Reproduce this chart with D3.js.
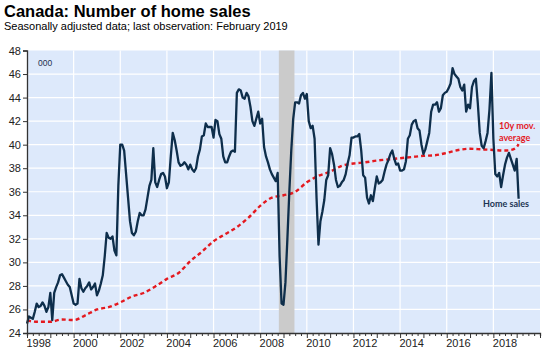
<!DOCTYPE html>
<html>
<head>
<meta charset="utf-8">
<script src="https://cdn.jsdelivr.net/npm/d3@7"></script>
<style>
  html, body { margin: 0; padding: 0; background: #ffffff; }
  svg { display: block; }
</style>
</head>
<body>
<svg id="chart" width="550" height="362"></svg>
<script>
// ---------------- DATA ----------------
const titleText = "Canada: Number of home sales";
const subtitleText = "Seasonally adjusted data; last observation: February 2019";
const unitLabel = "000";

// Monthly home sales (thousands, SA), starting January 1998, ending February 2019
const salesStart = 1998;
const salesValues = [
  24.8, 25.4, 25.3, 25.2, 25.8, 26.5, 26.2, 26.3, 26.6, 26.3, 25.8, 26.2, // 1998
  27.4, 25.1, 27.4, 27.9, 28.3, 28.9, 29.0, 28.7, 28.4, 28.1, 27.9, 27.2, // 1999
  26.5, 26.4, 26.5, 28.6, 27.8, 27.5, 27.8, 28.0, 28.3, 27.7, 27.9, 28.2, // 2000
  27.2, 27.6, 28.2, 28.9, 30.5, 32.5, 32.1, 32.0, 32.2, 31.0, 30.6, 36.5, // 2001
  40.0, 40.0, 39.5, 37.5, 35.5, 33.5, 32.5, 32.3, 32.6, 33.5, 34.2, 34.0, // 2002
  34.0, 34.5, 35.5, 36.5, 37.0, 39.7, 36.8, 36.4, 37.0, 37.5, 37.6, 37.3, // 2003
  36.3, 36.8, 39.0, 41.0, 40.4, 39.5, 38.5, 38.2, 38.3, 38.5, 38.3, 37.9, // 2004
  38.3, 37.9, 37.7, 38.0, 39.0, 39.6, 40.7, 40.8, 41.8, 41.5, 41.5, 41.5, // 2005
  40.6, 42.1, 42.0, 40.9, 40.5, 39.0, 38.5, 38.5, 39.0, 39.4, 39.5, 39.4, // 2006
  44.4, 44.7, 44.6, 44.0, 43.9, 44.4, 44.1, 43.2, 42.0, 41.6, 42.2, 42.8, // 2007
  41.8, 42.2, 39.8, 39.0, 38.5, 37.9, 37.5, 37.2, 36.9, 37.6, 30.5, 26.5, // 2008
  26.4, 28.3, 32.0, 36.0, 39.5, 42.2, 43.6, 43.6, 43.5, 44.2, 44.4, 43.9, // 2009
  44.3, 42.0, 41.4, 41.6, 40.5, 35.5, 31.5, 33.5, 34.3, 35.3, 37.0, 37.4, // 2010
  39.7, 39.2, 38.3, 37.0, 36.4, 36.5, 36.8, 37.0, 37.5, 38.4, 39.1, 40.6, // 2011
  40.6, 40.7, 40.7, 40.9, 39.5, 37.4, 37.2, 35.5, 35.0, 35.7, 35.2, 36.3, // 2012
  37.3, 36.7, 36.8, 37.0, 37.7, 38.3, 38.7, 39.2, 39.5, 38.8, 38.3, 38.4, // 2013
  37.8, 37.8, 37.9, 38.6, 40.5, 40.8, 41.7, 42.0, 42.1, 41.4, 41.2, 40.0, // 2014
  39.2, 39.6, 40.3, 41.0, 42.8, 43.4, 43.4, 43.6, 42.8, 43.1, 44.2, 44.4, // 2015
  44.5, 44.8, 45.2, 46.5, 46.0, 45.8, 45.6, 44.9, 44.6, 45.1, 42.8, 43.4, // 2016
  43.1, 44.9, 45.4, 45.6, 43.5, 41.0, 39.9, 39.7, 40.3, 41.0, 43.0, 46.1, // 2017
  40.5, 37.5, 37.3, 37.6, 36.4, 37.4, 38.3, 38.9, 39.3, 38.8, 38.3, 37.8, // 2018
  38.8, 35.4                                                              // 2019
];

// 10-year moving average, read at selected dates (decimal years)
const maYears = [1998.0, 1998.5, 1999.0, 1999.5, 2000.0, 2000.5, 2001.0, 2001.5, 2002.0, 2002.5,
                 2003.0, 2003.5, 2004.0, 2004.5, 2005.0, 2005.5, 2006.0, 2006.5, 2007.0, 2007.5,
                 2008.0, 2008.5, 2009.0, 2009.5, 2010.0, 2010.5, 2011.0, 2011.5, 2012.0, 2012.5,
                 2013.0, 2013.5, 2014.0, 2014.5, 2015.0, 2015.5, 2016.0, 2016.5, 2017.0, 2017.5,
                 2018.0, 2018.5, 2018.75, 2019.0, 2019.083];
const maValues = [25.05, 24.95, 24.95, 25.15, 25.1, 25.5, 26.0, 26.2, 26.6, 27.1,
                  27.4, 27.95, 28.6, 29.1, 30.1, 30.9, 31.8, 32.4, 33.0, 33.8,
                  34.8, 35.5, 35.7, 36.0, 36.8, 37.35, 37.7, 38.2, 38.4, 38.5,
                  38.65, 38.75, 38.85, 38.95, 39.05, 39.1, 39.3, 39.55, 39.65, 39.6,
                  39.55, 39.5, 39.55, 39.8, 40.05];

// Recession band (decimal years)
const recession = [2008.8, 2009.47];

// Axis ticks
const yTicks = [24, 26, 28, 30, 32, 34, 36, 38, 40, 42, 44, 46, 48];
const xLabelYears = [1998, 2000, 2002, 2004, 2006, 2008, 2010, 2012, 2014, 2016, 2018];

// Annotations
const maLabel = ["10y mov.", "average"];
const salesLabel = "Home sales";

// ---------------- DRAWING ----------------
const svg = d3.select("#chart");
const plot = { left: 27, right: 540, top: 50.5, bottom: 333 };

const x = d3.scaleLinear().domain([1998, 2020]).range([plot.left, plot.right]);
const y = d3.scaleLinear().domain([24, 48]).range([plot.bottom, plot.top]);

const FONT = "'Liberation Sans', Arial, sans-serif";
const NAVY = "#0e2e4b";
const RED = "#e4191f";

// Title
svg.append("text").attr("x", 4).attr("y", 17)
  .attr("font-family", FONT).attr("font-weight", "bold").attr("font-size", 16.5)
  .attr("fill", "#000").text(titleText);
svg.append("text").attr("x", 4).attr("y", 30)
  .attr("font-family", FONT).attr("font-size", 11)
  .attr("fill", "#000").text(subtitleText);

// Background
svg.append("rect")
  .attr("x", plot.left).attr("y", plot.top)
  .attr("width", plot.right - plot.left).attr("height", plot.bottom - plot.top)
  .attr("fill", "#dde9fb");

// Grid
const grid = svg.append("g");
grid.selectAll("line.h").data(yTicks.filter(d => d > 24 && d < 48)).enter().append("line")
  .attr("x1", plot.left).attr("x2", plot.right)
  .attr("y1", d => y(d)).attr("y2", d => y(d))
  .attr("stroke", "#ffffff").attr("stroke-width", 1.2);
grid.selectAll("line.v").data(xLabelYears.filter(d => d > 1998)).enter().append("line")
  .attr("x1", d => x(d)).attr("x2", d => x(d))
  .attr("y1", plot.top).attr("y2", plot.bottom)
  .attr("stroke", "#ffffff").attr("stroke-width", 1.2);

// Recession band
svg.append("rect")
  .attr("x", x(recession[0])).attr("y", plot.top)
  .attr("width", x(recession[1]) - x(recession[0]))
  .attr("height", plot.bottom - plot.top)
  .attr("fill", "#cbcbcb");

// Moving average
const maData = maYears.map((t, i) => ({ t, v: maValues[i] }));
svg.append("path").datum(maData)
  .attr("d", d3.line().x(d => x(d.t)).y(d => y(d.v)).curve(d3.curveMonotoneX))
  .attr("fill", "none").attr("stroke", RED).attr("stroke-width", 2.4)
  .attr("stroke-dasharray", "4,3");

// Home sales
const salesData = salesValues.map((v, i) => ({ t: salesStart + i / 12, v }));
svg.append("path").datum(salesData)
  .attr("d", d3.line().x(d => x(d.t)).y(d => y(d.v)))
  .attr("fill", "none").attr("stroke", NAVY).attr("stroke-width", 2.3)
  .attr("stroke-linejoin", "round");

// Y axis
const yAxis = d3.axisLeft(y).tickValues(yTicks).tickSize(4).tickPadding(2).tickFormat(d3.format("d"));
const gy = svg.append("g").attr("transform", `translate(${plot.left},0)`).call(yAxis);
gy.select(".domain").attr("stroke", "#333").attr("stroke-width", 1.3);
gy.selectAll(".tick line").attr("stroke", "#333");
gy.selectAll("text").attr("font-family", FONT).attr("font-size", 11).attr("fill", "#222");

// X axis: quarterly minor ticks, yearly ticks
const quarterTicks = d3.range(1998, 2020.001, 0.25);
const xAxis = d3.axisBottom(x).tickValues(quarterTicks).tickSize(3).tickFormat("");
const gx = svg.append("g").attr("transform", `translate(0,${plot.bottom})`).call(xAxis);
gx.select(".domain").attr("stroke", "#333").attr("stroke-width", 1.3);
gx.selectAll(".tick line").attr("stroke", "#333")
  .attr("y2", d => Math.abs(d - Math.round(d)) < 1e-6 ? 5 : 3);
gx.selectAll(".lbl").data(xLabelYears).enter().append("text")
  .attr("x", d => x(d + 0.5)).attr("y", 14)
  .attr("text-anchor", "middle")
  .attr("font-family", FONT).attr("font-size", 11).attr("fill", "#222")
  .text(d => d);

// Unit label
svg.append("text").attr("x", 38).attr("y", 66)
  .attr("font-family", FONT).attr("font-size", 8.5).attr("fill", "#1f3050")
  .text(unitLabel);

// Annotations
const ann = svg.append("g").attr("font-family", "Lato, 'Open Sans', sans-serif").attr("font-weight", "bold").attr("font-size", 9);
ann.selectAll(".ma").data(maLabel).enter().append("text")
  .attr("x", 499).attr("y", (d, i) => 129 + i * 11.5)
  .attr("fill", RED).text(d => d);
ann.append("text").attr("x", 483).attr("y", 207)
  .attr("fill", "#1c3553").text(salesLabel);
</script>
</body>
</html>
